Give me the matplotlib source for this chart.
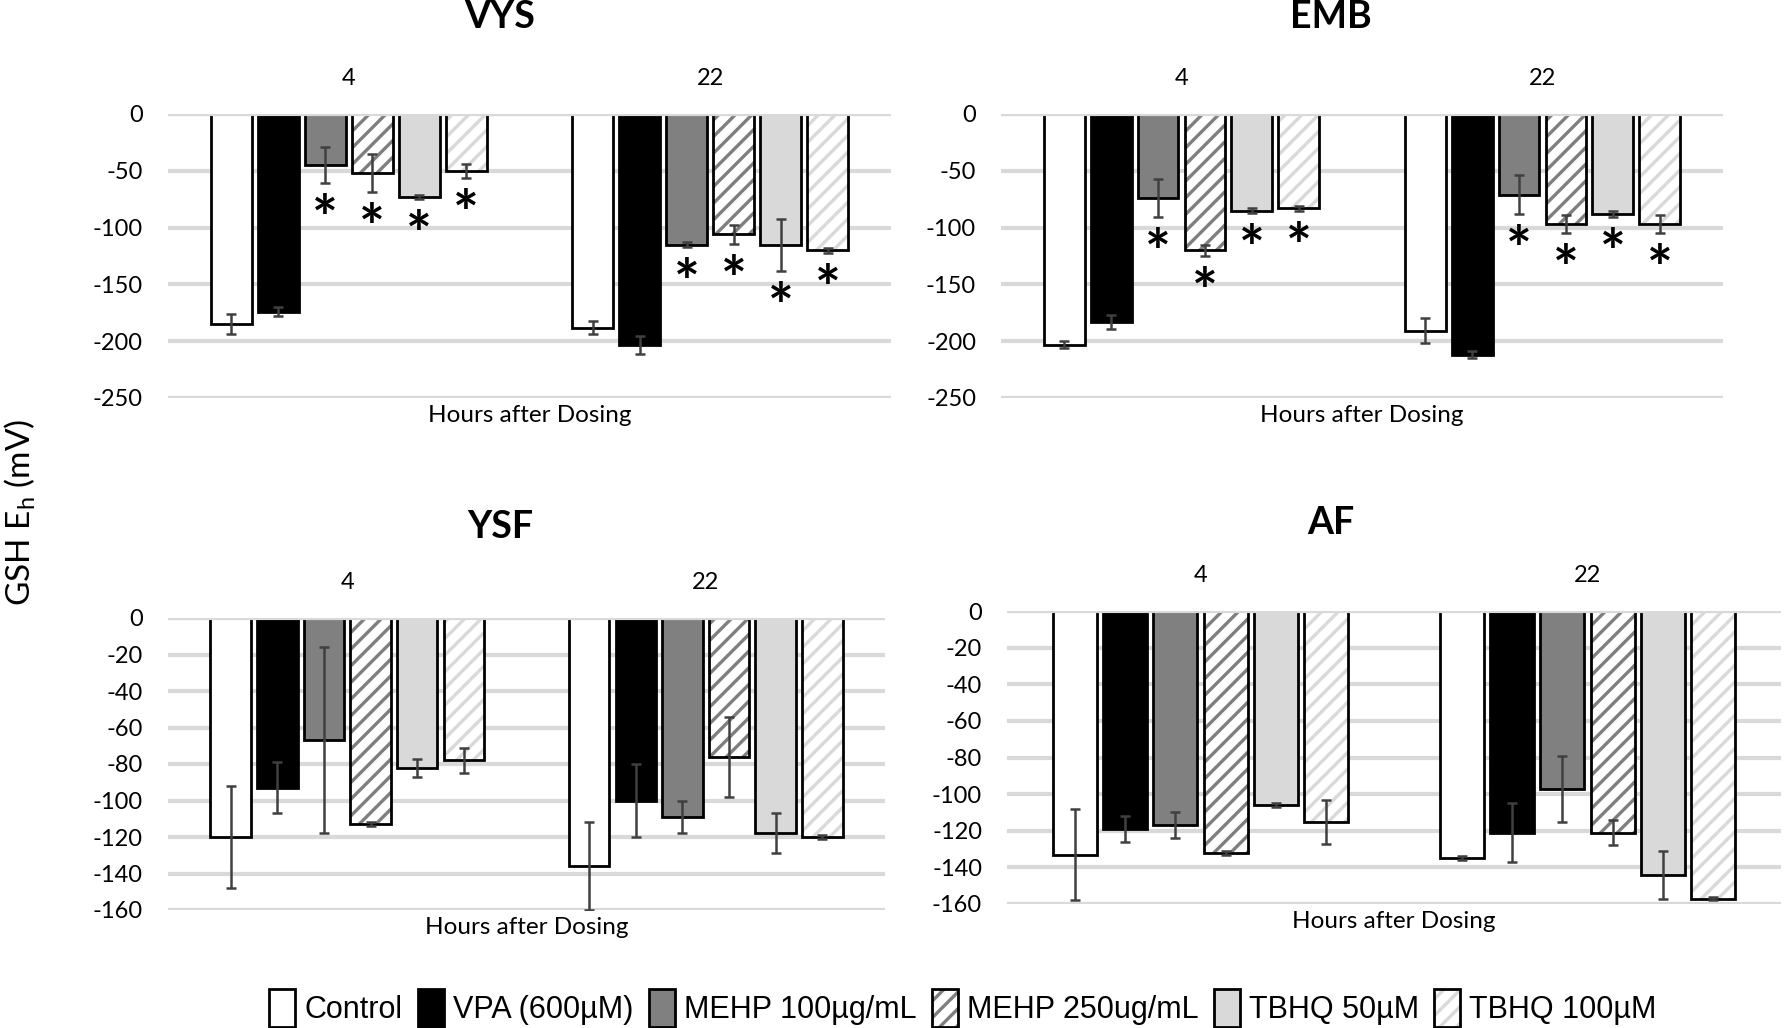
import numpy as np
import matplotlib
matplotlib.use("Agg")
import matplotlib.pyplot as plt
import matplotlib.patches as mpatches

plt.rcParams['font.family'] = ['Lato', 'DejaVu Sans']
plt.rcParams['hatch.linewidth'] = 2.4
plt.rcParams['axes.unicode_minus'] = False

series = ['Control', 'VPA (600µM)', 'MEHP 100µg/mL', 'MEHP 250ug/mL', 'TBHQ 50µM', 'TBHQ 100µM']
hours = ['4', '22']

# mean GSH Eh per hour (rows) and treatment (cols)
vys_mean = [[-185, -174, -45, -52, -73, -50], [-188, -203, -115, -106, -115, -120]]
vys_err = [[9, 4, 16, 17, 2, 6], [6, 8, 2, 8, 23, 2]]
vys_sig = [[0, 0, 1, 1, 1, 1], [0, 0, 1, 1, 1, 1]]

emb_mean = [[-203, -183, -74, -120, -85, -83], [-191, -212, -71, -97, -88, -97]]
emb_err = [[3, 6, 17, 5, 2, 2], [11, 3, 17, 8, 3, 8]]
emb_sig = [[0, 0, 1, 1, 1, 1], [0, 0, 1, 1, 1, 1]]

ysf_mean = [[-120, -93, -67, -113, -82, -78], [-136, -100, -109, -76, -118, -120]]
ysf_err = [[28, 14, 51, 1, 5, 7], [24, 20, 9, 22, 11, 1]]

af_mean = [[-133, -119, -117, -132, -106, -115], [-135, -121, -97, -121, -144, -157]]
af_err = [[25, 7, 7, 1, 1, 12], [1, 16, 18, 7, 13, 1]]

fills = ['white', 'black', '#808080', 'white', '#d9d9d9', 'white']
hatch_cols = [None, None, None, '#7f7f7f', None, '#d9d9d9']

W, H = 1784, 1028
fig = plt.figure(figsize=(W / 100, H / 100), dpi=100)


def px_axes(x0, x1, ytop, ybot):
    return fig.add_axes([x0 / W, 1 - ybot / H, (x1 - x0) / W, (ybot - ytop) / H])


def panel(ax, mean, err, ymin, step, sig=None):
    mean = np.array(mean)
    err = np.array(err)
    offs = (np.arange(6) - 2.5) * 0.13
    w = 0.113
    for i in range(6):
        x = np.arange(2) + offs[i]
        v = mean[:, i]
        if hatch_cols[i]:
            ax.bar(x, v, w, color='white', edgecolor=hatch_cols[i], lw=0, hatch='//', zorder=2)
            ax.bar(x, v, w, fill=False, edgecolor='black', lw=2, zorder=2)
        else:
            ax.bar(x, v, w, color=fills[i], edgecolor='black', lw=2, zorder=2)
        ax.errorbar(x, v, yerr=err[:, i], fmt='none', ecolor='#404040',
                    elinewidth=1.8, capsize=3.5, capthick=1.8, zorder=4)
        if sig is not None:
            for g in range(2):
                if sig[g][i]:
                    ax.annotate('*', (x[g], v[g] - err[g, i]), xytext=(0, -8),
                                textcoords='offset points', ha='center', va='top',
                                fontsize=44, fontweight='bold', zorder=5)
    ax.axhline(0, color='#d9d9d9', lw=3, zorder=3)
    ax.set_xlim(-0.5, 1.5)
    ax.set_ylim(ymin, 0)
    ax.set_yticks(np.arange(ymin, 1, step))
    ax.yaxis.grid(True, color='#d9d9d9', lw=3)
    ax.set_axisbelow(True)
    ax.set_xticks([0, 1])
    ax.set_xticklabels(hours)
    ax.xaxis.tick_top()
    ax.tick_params(length=0, labelsize=17)
    ax.tick_params(axis='x', pad=18)
    ax.tick_params(axis='y', pad=18)
    ax.xaxis.set_label_position('bottom')
    ax.set_xlabel('Hours after Dosing', fontsize=17.5, labelpad=5)
    for s in ax.spines.values():
        s.set_visible(False)


ax1 = px_axes(168, 891, 114, 398)
panel(ax1, vys_mean, vys_err, -250, 50, vys_sig)
ax2 = px_axes(1001, 1723, 114, 398)
panel(ax2, emb_mean, emb_err, -250, 50, emb_sig)
ax3 = px_axes(168, 885, 618, 910)
panel(ax3, ysf_mean, ysf_err, -160, 20)
ax4 = px_axes(1007, 1781, 611, 904)
panel(ax4, af_mean, af_err, -160, 20)

for t, x, y in [('VYS', 500, 17), ('EMB', 1331, 17), ('YSF', 500, 527), ('AF', 1331, 523)]:
    fig.text(x / W, 1 - y / H, t, ha='center', va='center', fontsize=27, fontweight='bold')

fig.text(20 / W, 1 - 512 / H, r'GSH E$_\mathregular{h}$ (mV)', rotation=90,
         ha='center', va='center', fontsize=24)

# legend handles
handles = []
for i in range(6):
    if hatch_cols[i]:
        h1 = mpatches.Patch(facecolor='white', edgecolor=hatch_cols[i], lw=0, hatch='//')
        h2 = mpatches.Patch(fill=False, edgecolor='black', lw=2)
        handles.append((h1, h2))
    else:
        handles.append(mpatches.Patch(facecolor=fills[i], edgecolor='black', lw=2))

fig.legend(handles, series, loc='center', bbox_to_anchor=(963 / W, 1 - 1008 / H), ncol=6,
           frameon=False, handlelength=0.85, handleheight=1.5, handletextpad=0.3,
           columnspacing=0.5, prop={'family': 'Liberation Sans', 'size': 22})

fig.savefig('out.png', dpi=100)
